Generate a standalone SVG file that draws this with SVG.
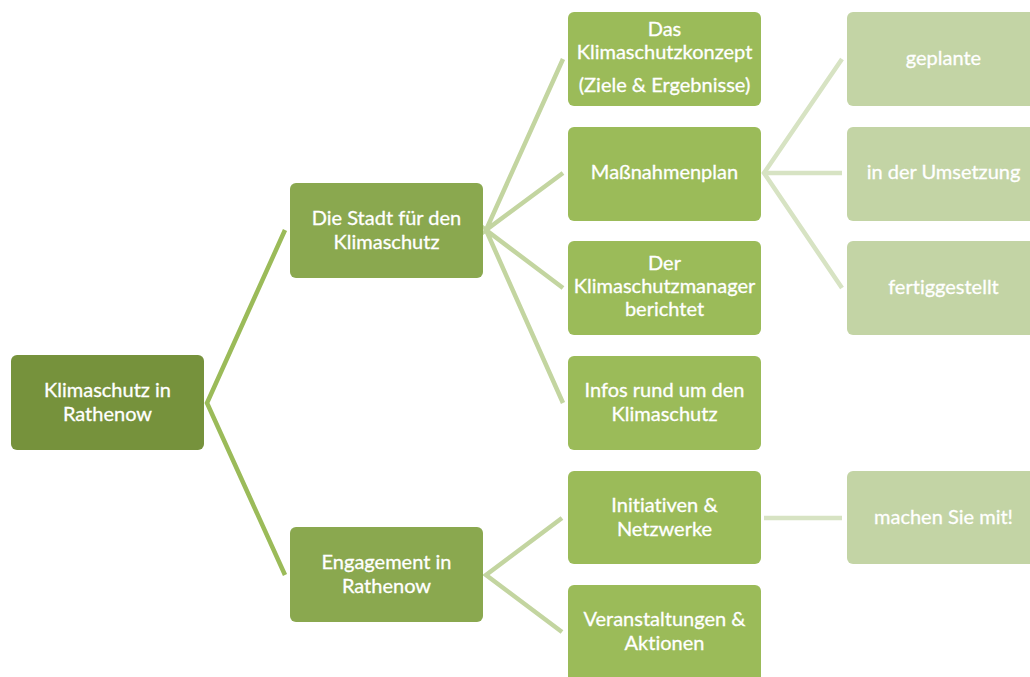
<svg xmlns="http://www.w3.org/2000/svg" width="1030" height="677" viewBox="0 0 1030 677">
<style>
.t{font-family:Lato,"Open Sans","Liberation Sans",sans-serif;font-size:20px;fill:#ffffff;stroke:#ffffff;stroke-width:0.3;text-anchor:middle;font-variant-ligatures:none}
.n0{fill:#76923c}
.n1{fill:#8aa84f}
.n2{fill:#9bbb59}
.n3{fill:#c3d4a5}
.c0{stroke:#9bbb59;stroke-width:4.5;fill:none}
.c1{stroke:#c3d5a0;stroke-width:4.5;fill:none}
.c2{stroke:#d7e3c3;stroke-width:4.5;fill:none}
</style>
<rect width="1030" height="677" fill="#ffffff"/>
<g id="connectors">
<polyline class="c0" points="285,230 207,403 285,575"/>
<polyline class="c1" points="563,59 486,230 563,173"/>
<polyline class="c1" points="563,288 486,230 563,403"/>
<polyline class="c1" points="562,518 486,575 562,632"/>
<polyline class="c2" points="842,59 764,173 842,288"/>
<line class="c2" x1="764" y1="173" x2="842" y2="173"/>
<line class="c2" x1="764" y1="518" x2="842" y2="518"/>
</g>
<g id="root"><rect class="n0" x="11" y="355" width="193" height="95" rx="6"/><text class="t" x="107.5" y="397">Klimaschutz in</text><text class="t" x="107.5" y="421">Rathenow</text></g>
<g id="stadt"><rect class="n1" x="290" y="183" width="193" height="95" rx="6"/><text class="t" x="386.5" y="225">Die Stadt für den</text><text class="t" x="386.5" y="249">Klimaschutz</text></g>
<g id="engagement"><rect class="n1" x="290" y="527" width="193" height="95" rx="6"/><text class="t" x="386.5" y="569">Engagement in</text><text class="t" x="386.5" y="593">Rathenow</text></g>
<g id="konzept"><rect class="n2" x="568" y="12" width="193" height="94" rx="6"/><text class="t" x="664.5" y="36">Das</text><text class="t" x="664.5" y="59">Klimaschutzkonzept</text><text class="t" x="664.5" y="92">(Ziele &amp; Ergebnisse)</text></g>
<g id="massnahmen"><rect class="n2" x="568" y="127" width="193" height="94" rx="6"/><text class="t" x="664.5" y="179">Maßnahmenplan</text></g>
<g id="manager"><rect class="n2" x="568" y="241" width="193" height="94" rx="6"/><text class="t" x="664.5" y="270">Der</text><text class="t" x="664.5" y="293">Klimaschutzmanager</text><text class="t" x="664.5" y="316">berichtet</text></g>
<g id="infos"><rect class="n2" x="568" y="356" width="193" height="94" rx="6"/><text class="t" x="664.5" y="397">Infos rund um den</text><text class="t" x="664.5" y="421">Klimaschutz</text></g>
<g id="initiativen"><rect class="n2" x="568" y="471" width="193" height="93" rx="6"/><text class="t" x="664.5" y="512">Initiativen &amp;</text><text class="t" x="664.5" y="536">Netzwerke</text></g>
<g id="veranstaltungen"><rect class="n2" x="568" y="585" width="193" height="100" rx="6"/><text class="t" x="664.5" y="626">Veranstaltungen &amp;</text><text class="t" x="664.5" y="650">Aktionen</text></g>
<g id="geplante"><rect class="n3" x="847" y="12" width="193" height="94" rx="6"/><text class="t" x="943.5" y="65">geplante</text></g>
<g id="umsetzung"><rect class="n3" x="847" y="127" width="193" height="94" rx="6"/><text class="t" x="943.5" y="179">in der Umsetzung</text></g>
<g id="fertig"><rect class="n3" x="847" y="241" width="193" height="94" rx="6"/><text class="t" x="943.5" y="294">fertiggestellt</text></g>
<g id="mitmachen"><rect class="n3" x="847" y="471" width="193" height="93" rx="6"/><text class="t" x="943.5" y="524">machen Sie mit!</text></g>
</svg>
